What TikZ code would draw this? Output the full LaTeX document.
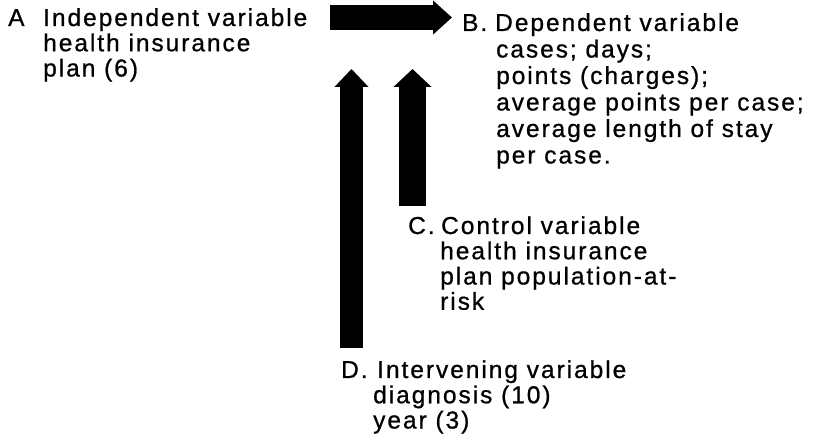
\documentclass[tikz,border=0pt]{standalone}
\usepackage{fontspec}
\setmainfont{Liberation Sans}[LetterSpace=8,FakeBold=0.8]
\usetikzlibrary{arrows.meta}
\newcommand{\lbl}[2]{\makebox[#1][l]{#2}}
\begin{document}
\begin{tikzpicture}[x=1pt,y=-1pt,
  txt/.style={anchor=base west, inner sep=0pt, font=\fontsize{24.5}{25}\selectfont},
  txtB/.style={txt, font=\fontsize{24.5}{26.5}\selectfont},
  hfat/.style={line width=25pt, -{Triangle[length=19pt,width=33pt]}, black},
  vfatL/.style={line width=23pt, -{Triangle[length=18pt,width=33pt]}, black},
  vfatR/.style={line width=27pt, -{Triangle[length=18pt,width=37pt]}, black}]
\useasboundingbox (0,0) rectangle (830,443);
\node[txt] (A) at (8,26) {\begin{tabular}[t]{@{}l@{}}
  \lbl{35pt}{A}Independent variable\\
  \hspace*{35pt}health insurance\\
  \hspace*{35pt}plan (6)\end{tabular}};
\node[txtB] (B) at (462,31) {\begin{tabular}[t]{@{}l@{}}
  \lbl{33pt}{B.}Dependent variable\\
  \hspace*{34pt}cases; days;\\
  \hspace*{34pt}points (charges);\\
  \hspace*{34pt}average points per case;\\
  \hspace*{34pt}average length of stay\\
  \hspace*{34pt}per case.\end{tabular}};
\node[txt] (C) at (408,234) {\begin{tabular}[t]{@{}l@{}}
  \lbl{33pt}{C.}Control variable\\
  \hspace*{32pt}health insurance\\
  \hspace*{32pt}plan population-at-\\
  \hspace*{32pt}risk\end{tabular}};
\node[txt] (D) at (341,378) {\begin{tabular}[t]{@{}l@{}}
  \lbl{36pt}{D.}Intervening variable\\
  \hspace*{32pt}diagnosis (10)\\
  \hspace*{32pt}year (3)\end{tabular}};
\coordinate (ab1) at (330,17.5);
\coordinate (ab2) at (452,17.5);
\coordinate (d1) at (351.5,348);
\coordinate (d2) at (351.5,69);
\coordinate (c1) at (412.5,206);
\coordinate (c2) at (412.5,69);
\draw[hfat] (ab1) -- (ab2);
\draw[vfatL] (d1) -- (d2);
\draw[vfatR] (c1) -- (c2);
\end{tikzpicture}
\end{document}
